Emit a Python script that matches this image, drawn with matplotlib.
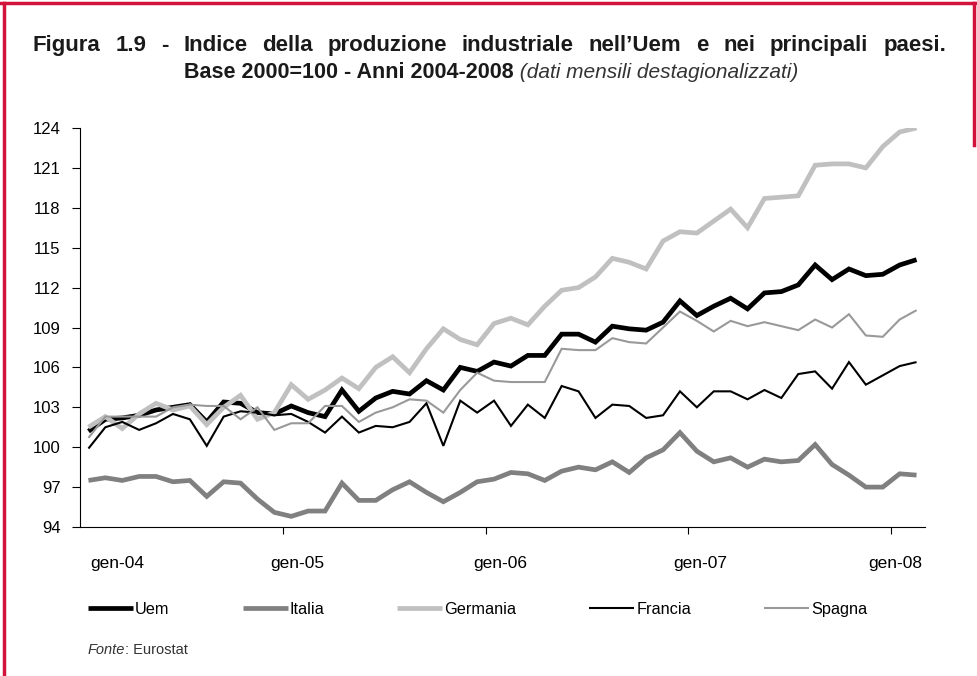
import matplotlib
matplotlib.use("Agg")
import matplotlib.pyplot as plt
from matplotlib import font_manager
import matplotlib.transforms as mtransforms
from matplotlib.lines import Line2D

names = {f.name for f in font_manager.fontManager.ttflist}
FONT = "Liberation Sans Narrow" if "Liberation Sans Narrow" in names else "Liberation Sans"
plt.rcParams['font.family'] = [FONT, 'DejaVu Sans']

# ---------------- data ----------------
mesi = ["gen", "feb", "mar", "apr", "mag", "giu", "lug", "ago", "set", "ott", "nov", "dic"]
categories = [f"{mesi[k % 12]}-{4 + k // 12:02d}" for k in range(50)]   # gen-04 ... feb-08
tick_labels = ["gen-04", "gen-05", "gen-06", "gen-07", "gen-08"]

uem = [101.2, 102.1, 102.2, 102.4, 102.8, 103.0, 103.2, 101.9, 103.4, 103.3, 102.6, 102.5,
       103.1, 102.6, 102.3, 104.3, 102.7, 103.7, 104.2, 104.0, 105.0, 104.3, 106.0, 105.7,
       106.4, 106.1, 106.9, 106.9, 108.5, 108.5, 107.9, 109.1, 108.9, 108.8, 109.4, 111.0,
       109.9, 110.6, 111.2, 110.4, 111.6, 111.7, 112.2, 113.7, 112.6, 113.4, 112.9, 113.0,
       113.7, 114.1]
italia = [97.5, 97.7, 97.5, 97.8, 97.8, 97.4, 97.5, 96.3, 97.4, 97.3, 96.1, 95.1,
          94.8, 95.2, 95.2, 97.3, 96.0, 96.0, 96.8, 97.4, 96.6, 95.9, 96.6, 97.4,
          97.6, 98.1, 98.0, 97.5, 98.2, 98.5, 98.3, 98.9, 98.1, 99.2, 99.8, 101.1,
          99.7, 98.9, 99.2, 98.5, 99.1, 98.9, 99.0, 100.2, 98.7, 97.9, 97.0, 97.0,
          98.0, 97.9]
germania = [101.5, 102.3, 101.4, 102.5, 103.3, 102.8, 103.1, 101.7, 103.0, 103.9, 102.1, 102.6,
            104.7, 103.6, 104.3, 105.2, 104.4, 106.0, 106.8, 105.6, 107.4, 108.9, 108.1, 107.7,
            109.3, 109.7, 109.2, 110.6, 111.8, 112.0, 112.8, 114.2, 113.9, 113.4, 115.5, 116.2,
            116.1, 117.0, 117.9, 116.5, 118.7, 118.8, 118.9, 121.2, 121.3, 121.3, 121.0, 122.6,
            123.7, 124.0]
francia = [99.9, 101.5, 101.9, 101.3, 101.8, 102.5, 102.1, 100.1, 102.3, 102.7, 102.6, 102.4,
           102.5, 101.9, 101.1, 102.3, 101.1, 101.6, 101.5, 101.9, 103.3, 100.1, 103.5, 102.6,
           103.5, 101.6, 103.2, 102.2, 104.6, 104.2, 102.2, 103.2, 103.1, 102.2, 102.4, 104.2,
           103.0, 104.2, 104.2, 103.6, 104.3, 103.7, 105.5, 105.7, 104.4, 106.4, 104.7, 105.4,
           106.1, 106.4]
spagna = [100.7, 102.3, 102.3, 102.3, 102.3, 103.0, 103.2, 103.1, 103.1, 102.1, 103.0, 101.3,
          101.8, 101.8, 103.1, 103.1, 101.9, 102.6, 103.0, 103.6, 103.5, 102.6, 104.3, 105.6,
          105.0, 104.9, 104.9, 104.9, 107.4, 107.3, 107.3, 108.2, 107.9, 107.8, 109.0, 110.2,
          109.5, 108.7, 109.5, 109.1, 109.4, 109.1, 108.8, 109.6, 109.0, 110.0, 108.4, 108.3,
          109.6, 110.3]

series = [
    ("Uem", uem, dict(color="black", lw=3.4)),
    ("Italia", italia, dict(color="#808080", lw=3.4)),
    ("Germania", germania, dict(color="#c0c0c0", lw=3.4)),
    ("Francia", francia, dict(color="black", lw=1.5)),
    ("Spagna", spagna, dict(color="#999999", lw=1.5)),
]

W, H = 977, 676
fig = plt.figure(figsize=(W / 100, H / 100), dpi=100)
fig.patch.set_facecolor("white")
renderer = fig.canvas.get_renderer()

x_left, x_right, y_top, y_bot = 80, 925, 128, 527
ax = fig.add_axes([x_left / W, 1 - y_bot / H, (x_right - x_left) / W, (y_bot - y_top) / H])

xs = list(range(len(categories)))
for name, vals, st in series:
    ax.plot(xs, vals, solid_joinstyle="miter", solid_capstyle="butt", label=name, **st)

ax.set_xlim(-0.5, len(categories) - 0.5)
ax.set_ylim(94, 124)
ax.set_yticks(range(94, 125, 3))
ax.tick_params(axis="y", direction="out", length=6, width=0.8, labelsize=12, pad=8)
for s in ["top", "right"]:
    ax.spines[s].set_visible(False)
for s in ["left", "bottom"]:
    ax.spines[s].set_linewidth(0.8)

# tick marks at the year boundaries, labels placed just to the right of them
bounds = [-0.5 + 12 * k for k in range(5)]
ax.set_xticks(bounds)
ax.set_xticklabels(tick_labels, fontsize=12.5)
ax.tick_params(axis="x", direction="out", length=5, width=0.8, pad=16)
label_shift = [37, 15, 15, 12, 4]
for lab, dx in zip(ax.get_xticklabels(), label_shift):
    lab.set_horizontalalignment("center")
    lab.set_transform(lab.get_transform() +
                      mtransforms.ScaledTranslation(dx / 100, 0, fig.dpi_scale_trans))
ax.xaxis.get_major_ticks()[0].tick1line.set_visible(False)

# legend (drawn row by row so that all labels share one baseline)
leg_y = 1 - 608 / H
x = 88
for name, vals, st in series:
    fig.add_artist(Line2D([x / W, (x + 45) / W], [leg_y, leg_y], transform=fig.transFigure,
                          solid_capstyle="butt", **st))
    t = fig.text((x + 47) / W, leg_y, name, fontsize=11.7, va="center_baseline", ha="left")
    x = x + 47 + t.get_window_extent(renderer).width + 73

# title, line 1 justified
words = "Figura 1.9 - Indice della produzione industriale nell’Uem e nei principali paesi.".split(" ")
texts = [fig.text(0, 1 - 51 / H, w, fontsize=16, fontweight="bold", va="baseline", color="#1a1a1a")
         for w in words]
widths = [t.get_window_extent(renderer).width for t in texts]
x0, x1 = 33, 946
gap = ((x1 - x0) - sum(widths)) / (len(words) - 1)
x = x0
for t, w in zip(texts, widths):
    t.set_x(x / W)
    x += w + gap

# title, line 2 (bold + italic)
t_b = fig.text(0, 1 - 78 / H, "Base 2000=100 - Anni 2004-2008", fontsize=15.5, fontweight="bold",
               va="baseline", color="#1a1a1a")
t_i = fig.text(0, 1 - 78 / H, " (dati mensili destagionalizzati)", fontsize=15, style="italic",
               va="baseline", color="#333333")
wb = t_b.get_window_extent(renderer).width
wi = t_i.get_window_extent(renderer).width
start = 491 - (wb + wi) / 2
t_b.set_x(start / W)
t_i.set_x((start + wb) / W)

# source
t_f = fig.text(88 / W, 1 - 654 / H, "Fonte", fontsize=10.5, style="italic", va="baseline", color="#333333")
wf = t_f.get_window_extent(renderer).width
fig.text((88 + wf) / W, 1 - 654 / H, ": Eurostat", fontsize=10.5, va="baseline", color="#333333")

# red frame
red = "#d2143c"
fig.add_artist(Line2D([0, 1], [1 - 3 / H, 1 - 3 / H], color=red, lw=2.5, transform=fig.transFigure))
fig.add_artist(Line2D([4 / W, 4 / W], [0, 1 - 3 / H], color=red, lw=2.5, transform=fig.transFigure))
fig.add_artist(Line2D([974 / W, 974 / W], [1 - 145 / H, 1 - 3 / H], color=red, lw=2.5,
                      transform=fig.transFigure))

fig.savefig("out.png", dpi=100)
